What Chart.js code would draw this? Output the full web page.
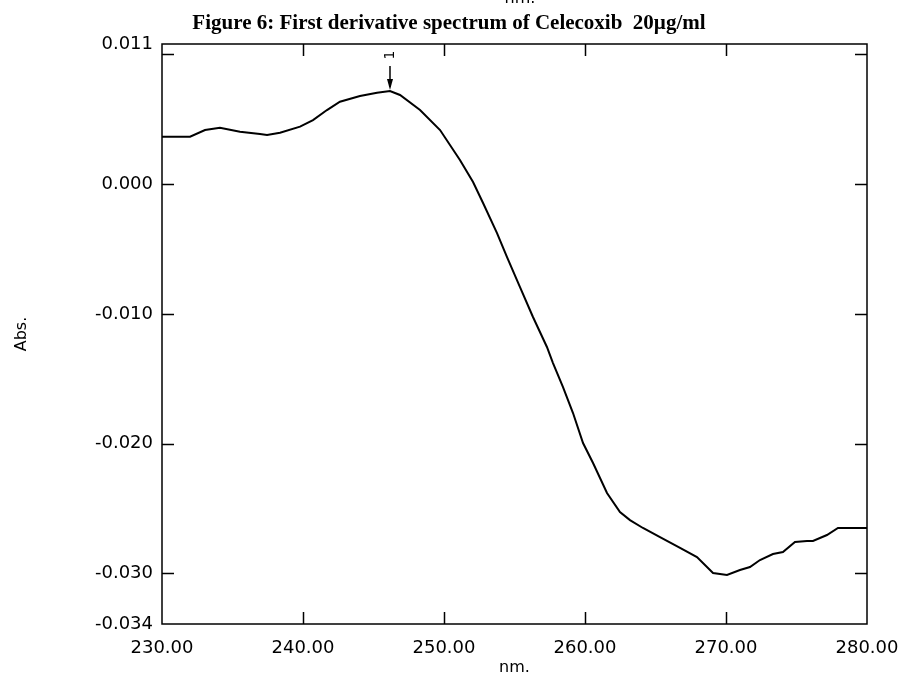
<!DOCTYPE html>
<html>
<head>
<meta charset="utf-8">
<script src="https://cdn.jsdelivr.net/npm/chart.js@4.4.1/dist/chart.umd.min.js"></script>
<style>
  body { margin: 0; background: #fff; }
  canvas { display: block; }
</style>
</head>
<body>
<canvas id="spectrum" width="900" height="682"></canvas>
<script>
// first derivative trace, wavelength (nm) vs d(Abs)
const wavelengths = [
  230.00, 231.99, 233.05, 234.11, 235.53, 236.95, 237.45, 238.37, 239.79, 240.71,
  241.70, 242.62, 244.04, 245.25, 246.17, 246.88, 248.30, 249.72, 251.13, 252.06,
  252.77, 253.76, 254.47, 255.39, 256.31, 257.30, 257.73, 258.44, 259.15, 259.86,
  260.57, 261.56, 262.48, 263.19, 264.11, 265.32, 266.74, 267.94, 269.08, 270.07,
  270.99, 271.70, 272.41, 273.33, 274.04, 274.89, 275.74, 276.17, 277.16, 277.94,
  280.00
];
const absValues = [
  0.00366, 0.00366, 0.00417, 0.00435, 0.00404, 0.00386, 0.00379, 0.00396, 0.00443, 0.00494,
  0.00571, 0.00635, 0.00679, 0.00705, 0.00718, 0.00687, 0.00571, 0.00417, 0.00186, 0.00016,
  -0.00145, -0.00377, -0.00562, -0.00793, -0.01024, -0.01255, -0.01379, -0.01564, -0.01764, -0.01995,
  -0.02149, -0.02380, -0.02527, -0.02589, -0.02650, -0.02720, -0.02804, -0.02874, -0.02997, -0.03012,
  -0.02974, -0.02951, -0.02897, -0.02851, -0.02835, -0.02758, -0.02750, -0.02750, -0.02704, -0.02650,
  -0.02650
];

const xMin = 230, xMax = 280;
const yMin = -0.0339, yMax = 0.0108;
const yTicks = [-0.0339, -0.03, -0.02, -0.01, 0, 0.01, 0.0108];
const yMarks = [-0.03, -0.02, -0.01, 0, 0.01];
const xMarks = [240, 250, 260, 270];

// peak pick
const peakLabel = "1";
const peakIndex = 14;

const titleText = "Figure 6: First derivative spectrum of Celecoxib  20\u00b5g/ml";
const sansFont = '"DejaVu Sans", sans-serif';

const framePlugin = {
  id: "frame",
  afterDraw(chart) {
    const { ctx, chartArea: a, scales } = chart;
    const x = scales.x, y = scales.y;
    ctx.save();
    ctx.strokeStyle = "#000";
    ctx.lineWidth = 1.5;
    ctx.strokeRect(a.left, a.top, a.right - a.left, a.bottom - a.top);

    // inward tick marks on all four sides
    ctx.beginPath();
    xMarks.forEach(v => {
      const px = Math.round(x.getPixelForValue(v)) + 0.5;
      ctx.moveTo(px, a.bottom); ctx.lineTo(px, a.bottom - 12);
      ctx.moveTo(px, a.top); ctx.lineTo(px, a.top + 12);
    });
    yMarks.forEach(v => {
      const py = Math.round(y.getPixelForValue(v)) + 0.5;
      ctx.moveTo(a.left, py); ctx.lineTo(a.left + 12, py);
      ctx.moveTo(a.right, py); ctx.lineTo(a.right - 12, py);
    });
    ctx.stroke();

    // peak arrow
    const px = x.getPixelForValue(wavelengths[peakIndex]);
    const py = y.getPixelForValue(absValues[peakIndex]);
    ctx.lineWidth = 1.5;
    ctx.beginPath();
    ctx.moveTo(px, py - 25); ctx.lineTo(px, py - 4);
    ctx.stroke();
    ctx.fillStyle = "#000";
    ctx.beginPath();
    ctx.moveTo(px - 3, py - 12); ctx.lineTo(px + 3, py - 12); ctx.lineTo(px, py - 1);
    ctx.closePath();
    ctx.fill();
    ctx.save();
    ctx.translate(px, py - 36);
    ctx.rotate(-Math.PI / 2);
    ctx.font = "14px " + sansFont;
    ctx.textAlign = "center";
    ctx.textBaseline = "middle";
    ctx.fillText(peakLabel, 0, 0);
    ctx.restore();

    // titles
    ctx.fillStyle = "#000";
    ctx.textAlign = "center";
    ctx.font = "bold 21px 'Liberation Serif', serif";
    ctx.textBaseline = "middle";
    ctx.fillText(titleText, 449, 24);

    ctx.font = "16px " + sansFont;
    ctx.textBaseline = "alphabetic";
    ctx.fillText("nm.", 520, 3);
    ctx.textBaseline = "middle";
    ctx.fillText("nm.", (a.left + a.right) / 2, 668);

    ctx.save();
    ctx.translate(22, (a.top + a.bottom) / 2);
    ctx.rotate(-Math.PI / 2);
    ctx.fillText("Abs.", 0, 0);
    ctx.restore();
    ctx.restore();
  }
};

new Chart(document.getElementById("spectrum"), {
  type: "line",
  data: {
    datasets: [{
      data: wavelengths.map((w, i) => ({ x: w, y: absValues[i] })),
      borderColor: "#000",
      borderWidth: 2,
      pointRadius: 0,
      tension: 0,
      fill: false
    }]
  },
  options: {
    responsive: false,
    animation: false,
    devicePixelRatio: 1,
    layout: { padding: { top: 44, right: 33, left: 0, bottom: 0 } },
    plugins: { legend: { display: false }, tooltip: { enabled: false }, title: { display: false } },
    scales: {
      x: {
        type: "linear",
        min: xMin,
        max: xMax,
        grid: { display: false, drawTicks: false },
        border: { display: false },
        afterFit: s => { s.height = 58; s.paddingLeft = 0; s.paddingRight = 0; },
        ticks: {
          stepSize: 10,
          maxRotation: 0,
          padding: 14,
          color: "#000",
          font: { family: sansFont, size: 18 },
          callback: v => v.toFixed(2)
        }
      },
      y: {
        type: "linear",
        min: yMin,
        max: yMax,
        grid: { display: false, drawTicks: false },
        border: { display: false },
        afterFit: s => { s.width = 162; s.paddingTop = 0; s.paddingBottom = 0; },
        afterBuildTicks: s => { s.ticks = yTicks.map(v => ({ value: v })); },
        ticks: {
          padding: 9,
          color: "#000",
          font: { family: sansFont, size: 18 },
          callback: v => (v === 0.01 ? "" : v.toFixed(3))
        }
      }
    }
  },
  plugins: [framePlugin]
});
</script>
</body>
</html>
